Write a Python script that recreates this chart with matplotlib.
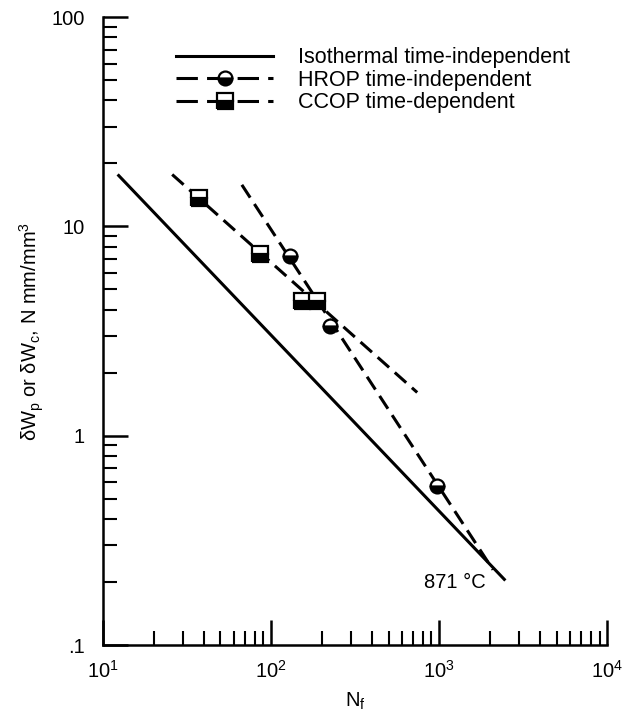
import matplotlib.pyplot as plt
from matplotlib.ticker import LogLocator, FixedLocator, FixedFormatter, NullFormatter

plt.rcParams['font.family'] = ['Liberation Sans', 'DejaVu Sans']
plt.rcParams['mathtext.fontset'] = 'custom'
plt.rcParams['mathtext.rm'] = 'Liberation Sans'
plt.rcParams['mathtext.it'] = 'Liberation Sans'

# fitted lines (end points)
iso_n = [12.4, 2440]
iso_w = [17.5, 0.206]
hrop_line_n = [67, 2090]
hrop_line_w = [15.8, 0.229]
ccop_line_n = [25.8, 740]
ccop_line_w = [17.7, 1.61]

# measured points
hrop_n = [130, 224, 972]
hrop_w = [7.26, 3.34, 0.578]
ccop_n = [37.3, 86, 153, 188]
ccop_w = [13.7, 7.42, 4.41, 4.41]

labels = ['Isothermal time-independent', 'HROP time-independent', 'CCOP time-dependent']

fs = 14.5
fig = plt.figure(figsize=(6.28, 7.12), dpi=100)
ax = fig.add_axes([0.164, 0.094, 0.803, 0.882])

dash = (0, (5, 2.5))
ax.plot(iso_n, iso_w, '-', color='k', lw=2.2)
ax.plot(hrop_line_n, hrop_line_w, color='k', lw=2.2, linestyle=dash)
ax.plot(ccop_line_n, ccop_line_w, color='k', lw=2.2, linestyle=dash)
mk = dict(color='k', mec='k', mfc='k', mfcalt='white', fillstyle='bottom', mew=1.6, ls='none')
ax.plot(hrop_n, hrop_w, marker='o', ms=10, **mk)
ax.plot(ccop_n, ccop_w, marker='s', ms=11, **mk)

# legend proxies
h1, = ax.plot([], [], '-', color='k', lw=2.2)
h2, = ax.plot([], [], color='k', lw=2.2, linestyle=(0, (7, 3)), marker='o', ms=10,
              mec='k', mfc='k', mfcalt='white', fillstyle='bottom', mew=1.6)
h3, = ax.plot([], [], color='k', lw=2.2, linestyle=(0, (7, 3)), marker='s', ms=11,
              mec='k', mfc='k', mfcalt='white', fillstyle='bottom', mew=1.6)
ax.legend([h1, h2, h3], labels, loc='upper left', bbox_to_anchor=(0.128, 0.966),
          frameon=False, handlelength=4.5, handletextpad=1.15, labelspacing=0.08,
          numpoints=1, fontsize=15.5, borderaxespad=0)

ax.text(1245, 0.20, '871 °C', fontsize=fs, ha='center', va='center')

ax.set_xscale('log')
ax.set_yscale('log')
ax.set_xlim(10, 1e4)
ax.set_ylim(0.1, 100)

ax.spines['top'].set_visible(False)
ax.spines['right'].set_visible(False)
for s in ['left', 'bottom']:
    ax.spines[s].set_linewidth(1.8)

ax.yaxis.set_major_locator(FixedLocator([0.1, 1, 10, 100]))
ax.yaxis.set_major_formatter(FixedFormatter(['.1', '1', '10', '100']))
ax.xaxis.set_major_locator(FixedLocator([10, 100, 1000, 10000]))
ax.xaxis.set_major_formatter(FixedFormatter(['$10^1$', '$10^2$', '$10^3$', '$10^4$']))
for a in [ax.xaxis, ax.yaxis]:
    a.set_minor_locator(LogLocator(base=10, subs=range(2, 10), numticks=20))
    a.set_minor_formatter(NullFormatter())

ax.tick_params(axis='y', which='major', direction='in', length=18, width=1.8,
               pad=13, labelsize=fs)
ax.tick_params(axis='x', which='major', direction='in', length=18, width=1.8,
               pad=11, labelsize=fs)
ax.tick_params(which='minor', direction='in', length=10, width=1.5)

ax.set_xlabel('N$_f$', fontsize=fs, labelpad=6)
ax.set_ylabel('δW$_p$ or δW$_c$, N mm/mm$^3$', fontsize=fs, labelpad=4)

plt.savefig('out.png', dpi=100)
